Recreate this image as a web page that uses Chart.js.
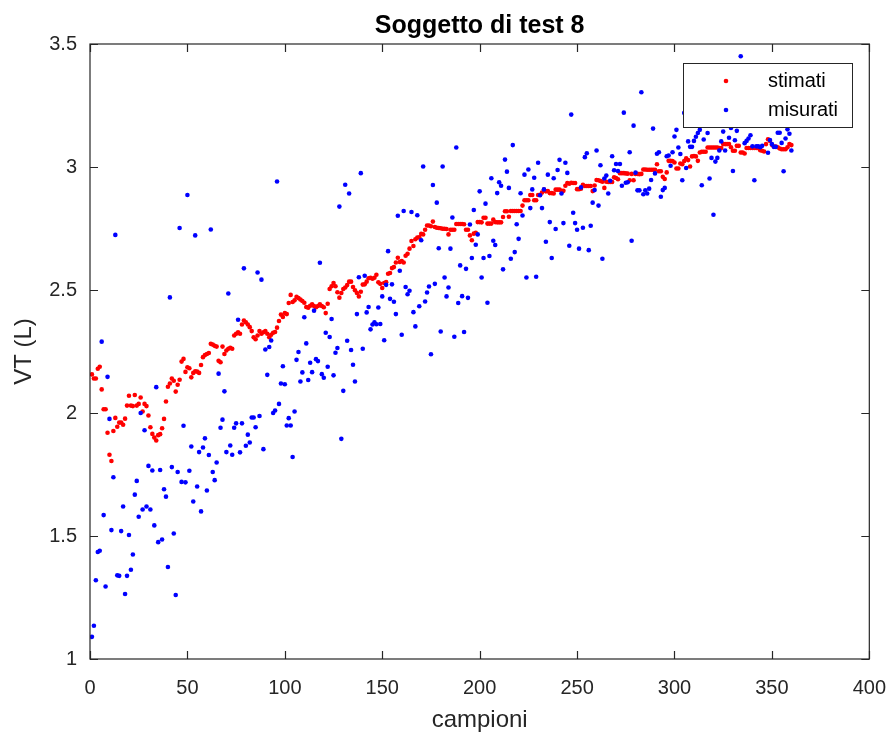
<!DOCTYPE html>
<html>
<head>
<meta charset="utf-8">
<script src="https://cdn.jsdelivr.net/npm/chart.js@4.4.0/dist/chart.umd.min.js"></script>
<style>
  body { margin: 0; background: #fff; }
  #wrap { width: 895px; height: 740px; }
</style>
</head>
<body>
<div id="wrap"><canvas id="chart" width="895" height="740"></canvas></div>
<script>
// sample numbers 1..360
const campioni = Array.from({ length: 360 }, (_, i) => i + 1);

// estimated values (red)
const stimati = [
  2.157, 2.14, 2.14, 2.18, 2.188, 2.096, 2.015, 2.015, 1.92, 1.83,
  1.805, 1.927, 1.98, 1.944, 1.961, 1.961, 1.952, 1.977, 2.03, 2.07,
  2.03, 2.028, 2.073, 2.03, 2.037, 2.063, 2.006, 2.037, 2.028, 1.99,
  1.942, 1.915, 1.9, 1.888, 1.91, 1.914, 1.938, 1.976, 2.047, 2.107,
  2.12, 2.14, 2.131, 2.087, 2.115, 2.135, 2.209, 2.22, 2.167, 2.186,
  2.182, 2.145, 2.163, 2.17, 2.168, 2.163, 2.195, 2.227, 2.236, 2.24,
  2.244, 2.281, 2.278, 2.273, 2.27, 2.212, 2.206, 2.27, 2.24, 2.254,
  2.261, 2.265, 2.261, 2.315, 2.322, 2.328, 2.322, 2.36, 2.376, 2.369,
  2.36, 2.349, 2.333, 2.308, 2.3, 2.315, 2.333, 2.322, 2.328, 2.333,
  2.322, 2.308, 2.318, 2.326, 2.329, 2.347, 2.374, 2.4, 2.39, 2.406,
  2.402, 2.447, 2.48, 2.451, 2.458, 2.472, 2.467, 2.461, 2.455, 2.448,
  2.431, 2.428, 2.436, 2.442, 2.435, 2.43, 2.435, 2.442, 2.435, 2.43,
  2.406, 2.444, 2.504, 2.515, 2.528, 2.515, 2.491, 2.469, 2.488, 2.504,
  2.51, 2.52, 2.534, 2.534, 2.512, 2.499, 2.488, 2.474, 2.493, 2.522,
  2.523, 2.534, 2.548, 2.55, 2.546, 2.55, 2.562, 2.531, 2.525, 2.508,
  2.528, 2.532, 2.566, 2.569, 2.589, 2.593, 2.612, 2.631, 2.614, 2.618,
  2.612, 2.639, 2.647, 2.668, 2.699, 2.679, 2.706, 2.713, 2.714, 2.728,
  2.726, 2.745, 2.762, 2.762, 2.759, 2.778, 2.756, 2.753, 2.752, 2.751,
  2.749, 2.749, 2.748, 2.726, 2.745, 2.745, 2.745, 2.768, 2.768, 2.768,
  2.768, 2.767, 2.745, 2.745, 2.722, 2.702, 2.729, 2.733, 2.776, 2.776,
  2.775, 2.794, 2.794, 2.77, 2.77, 2.77, 2.786, 2.776, 2.775, 2.775,
  2.775, 2.797, 2.82, 2.82, 2.798, 2.821, 2.821, 2.821, 2.821, 2.821,
  2.821, 2.843, 2.865, 2.865, 2.865, 2.886, 2.886, 2.865, 2.865, 2.886,
  2.886, 2.896, 2.908, 2.901, 2.902, 2.894, 2.894, 2.892, 2.908, 2.908,
  2.908, 2.903, 2.903, 2.924, 2.935, 2.932, 2.936, 2.935, 2.935, 2.91,
  2.91, 2.912, 2.928, 2.923, 2.923, 2.923, 2.923, 2.902, 2.925, 2.947,
  2.946, 2.943, 2.94, 2.915, 2.94, 2.939, 2.939, 2.939, 2.958, 2.955,
  2.95, 2.975, 2.975, 2.975, 2.974, 2.973, 2.946, 2.972, 2.946, 2.972,
  2.972, 2.971, 2.972, 2.99, 2.99, 2.989, 2.989, 2.989, 2.989, 2.989,
  3.011, 2.983, 2.983, 2.96, 2.951, 2.978, 3.025, 3.025, 3.024, 3.018,
  2.994, 2.994, 3.014, 3.011, 3.024, 3.035, 3.028, 3.002, 3.043, 3.045,
  3.043, 3.025, 3.059, 3.062, 3.062, 3.062, 3.079, 3.079, 3.079, 3.079,
  3.079, 3.079, 3.077, 3.077, 3.093, 3.093, 3.093, 3.093, 3.08, 3.066,
  3.066, 3.086, 3.086, 3.059, 3.059, 3.055, 3.077, 3.077, 3.077, 3.077,
  3.077, 3.077, 3.077, 3.068, 3.066, 3.063, 3.093, 3.113, 3.106, 3.09,
  3.083, 3.083, 3.08, 3.075, 3.072, 3.072, 3.072, 3.08, 3.093, 3.089
];

// measured values (blue)
const misurati = [
  1.09, 1.135, 1.32, 1.435, 1.44, 2.29, 1.585, 1.295, 2.147, 1.976,
  1.524, 1.739, 2.724, 1.34, 1.338, 1.52, 1.62, 1.264, 1.338, 1.504,
  1.363, 1.425, 1.668, 1.724, 1.578, 2.0, 1.608, 1.93, 1.62, 1.785,
  1.608, 1.766, 1.543, 2.105, 1.475, 1.768, 1.486, 1.69, 1.66, 1.374,
  2.47, 1.78, 1.51, 1.26, 1.76, 2.752, 1.72, 1.948, 1.718, 2.886,
  1.765, 1.864, 1.64, 2.722, 1.701, 1.841, 1.6, 1.86, 1.897, 1.685,
  1.829, 2.746, 1.76, 1.727, 1.799, 2.16, 1.94, 1.973, 2.088, 1.841,
  2.486, 1.868, 1.83, 1.94, 1.958, 2.379, 1.84, 1.958, 2.588, 1.867,
  1.912, 1.88, 1.982, 1.982, 1.942, 2.571, 1.988, 2.542, 1.853, 2.258,
  2.155, 2.268, 2.295, 2.0, 2.01, 2.941, 2.037, 2.12, 2.19, 2.117,
  1.949, 1.979, 1.949, 1.821, 2.006, 2.216, 2.248, 2.128, 2.165, 2.389,
  2.283, 2.134, 2.204, 2.166, 2.416, 2.219, 2.211, 2.611, 2.158, 2.143,
  2.326, 2.188, 2.309, 2.382, 2.153, 2.245, 2.264, 2.839, 1.895, 2.09,
  2.928, 2.294, 2.892, 2.256, 2.196, 2.128, 2.402, 2.552, 2.975, 2.261,
  2.558, 2.409, 2.431, 2.34, 2.36, 2.369, 2.361, 2.429, 2.362, 2.474,
  2.296, 2.521, 2.658, 2.464, 2.523, 2.452, 2.402, 2.802, 2.578, 2.318,
  2.821, 2.512, 2.483, 2.497, 2.817, 2.41, 2.352, 2.804, 2.434, 2.702,
  3.002, 2.453, 2.49, 2.514, 2.239, 2.927, 2.525, 2.855, 2.67, 2.331,
  3.002, 2.551, 2.474, 2.51, 2.668, 2.795, 2.31, 3.079, 2.447, 2.6,
  2.475, 2.329, 2.586, 2.468, 2.766, 2.63, 2.825, 2.684, 2.726, 2.901,
  2.551, 2.63, 2.851, 2.448, 2.638, 2.954, 2.7, 2.683, 2.894, 2.938,
  2.924, 2.584, 3.03, 2.981, 2.915, 2.627, 3.089, 2.654, 2.767, 2.708,
  2.893, 2.803, 2.969, 2.551, 2.99, 2.833, 2.909, 2.956, 2.554, 3.017,
  2.885, 2.833, 2.909, 2.696, 2.969, 2.776, 2.63, 2.954, 2.748, 2.988,
  3.029, 2.892, 2.772, 3.017, 2.976, 2.68, 3.213, 2.814, 2.772, 2.745,
  2.668, 2.917, 2.753, 3.04, 3.056, 2.662, 2.761, 2.855, 2.906, 3.067,
  2.843, 3.007, 2.627, 2.953, 2.965, 2.892, 2.944, 3.044, 2.987, 3.012,
  2.984, 3.012, 2.924, 3.221, 2.936, 2.938, 3.06, 2.7, 3.168, 2.977,
  2.905, 2.905, 3.304, 2.889, 2.905, 2.892, 2.912, 2.947, 3.156, 2.974,
  3.054, 3.06, 2.879, 2.906, 2.915, 3.044, 3.047, 3.005, 3.06, 3.124,
  3.151, 3.079, 3.053, 2.946, 3.22, 2.996, 3.104, 3.082, 3.082, 3.106,
  3.123, 3.138, 3.151, 2.926, 3.112, 3.25, 3.138, 2.953, 3.037, 2.806,
  3.022, 3.037, 3.067, 3.104, 3.144, 3.067, 3.2, 3.119, 3.159, 2.984,
  3.109, 3.147, 3.28, 3.45, 3.19, 3.097, 3.106, 3.116, 3.129, 3.084,
  2.946, 3.084, 3.084, 3.08, 3.086, 3.23, 3.3, 3.058, 3.11, 3.093,
  3.082, 3.082, 3.139, 3.139, 3.098, 2.983, 3.116, 3.153, 3.135, 3.067
];

const xTicks = [0, 50, 100, 150, 200, 250, 300, 350, 400];
const yTicks = [1, 1.5, 2, 2.5, 3, 3.5];
const seriesNames = ['stimati', 'misurati'];
const seriesColors = ['#ff0000', '#0000ff'];

const FONT = '"Liberation Sans", Arial, Helvetica, sans-serif';
const AXIS = '#262626';

// box, inward ticks, title, axis labels and the legend, MATLAB style
const matlabAxes = {
  id: 'matlabAxes',
  afterDraw(chart) {
    const ctx = chart.ctx;
    const a = chart.chartArea;
    const sx = chart.scales.x, sy = chart.scales.y;
    const tl = 8;
    ctx.save();
    ctx.strokeStyle = AXIS;
    ctx.lineWidth = 1.2;
    ctx.strokeRect(a.left, a.top, a.right - a.left, a.bottom - a.top);
    ctx.beginPath();
    xTicks.forEach(v => {
      const px = Math.round(sx.getPixelForValue(v)) + 0.5;
      ctx.moveTo(px, a.bottom); ctx.lineTo(px, a.bottom - tl);
      ctx.moveTo(px, a.top); ctx.lineTo(px, a.top + tl);
    });
    yTicks.forEach(v => {
      const py = Math.round(sy.getPixelForValue(v)) + 0.5;
      ctx.moveTo(a.left, py); ctx.lineTo(a.left + tl, py);
      ctx.moveTo(a.right, py); ctx.lineTo(a.right - tl, py);
    });
    ctx.stroke();

    // title
    ctx.fillStyle = '#000';
    ctx.font = 'bold 25px ' + FONT;
    ctx.textAlign = 'center';
    ctx.textBaseline = 'alphabetic';
    ctx.fillText('Soggetto di test 8', (a.left + a.right) / 2, 33);

    // axis labels
    ctx.fillStyle = AXIS;
    ctx.font = '24px ' + FONT;
    ctx.fillText('campioni', (a.left + a.right) / 2, 727);
    ctx.save();
    ctx.translate(31, (a.top + a.bottom) / 2);
    ctx.rotate(-Math.PI / 2);
    ctx.fillText('VT (L)', 0, 0);
    ctx.restore();

    // legend
    const lx = 683, ly = 63, lw = 169, lh = 64;
    ctx.fillStyle = '#fff';
    ctx.fillRect(lx, ly, lw, lh);
    ctx.strokeStyle = AXIS;
    ctx.lineWidth = 1;
    ctx.strokeRect(lx + 0.5, ly + 0.5, lw, lh);
    ctx.font = '20px ' + FONT;
    ctx.textAlign = 'left';
    ctx.textBaseline = 'middle';
    seriesNames.forEach((name, i) => {
      const cy = ly + 18 + i * 29;
      ctx.fillStyle = seriesColors[i];
      ctx.beginPath();
      ctx.arc(lx + 43, cy, 2.3, 0, Math.PI * 2);
      ctx.fill();
      ctx.fillStyle = '#000';
      ctx.fillText(name, lx + 85, cy);
    });
    ctx.restore();
  }
};

const ctx = document.getElementById('chart').getContext('2d');
new Chart(ctx, {
  type: 'scatter',
  data: {
    datasets: [
      {
        label: seriesNames[0],
        data: campioni.map((c, i) => ({ x: c, y: stimati[i] })),
        backgroundColor: seriesColors[0],
        pointRadius: 2.3,
        pointBorderWidth: 0,
        order: 2
      },
      {
        label: seriesNames[1],
        data: campioni.map((c, i) => ({ x: c, y: misurati[i] })),
        backgroundColor: seriesColors[1],
        pointRadius: 2.3,
        pointBorderWidth: 0,
        order: 1
      }
    ]
  },
  options: {
    responsive: false,
    animation: false,
    layout: { padding: { top: 44, right: 13, left: 0, bottom: 0 } },
    plugins: {
      legend: { display: false },
      title: { display: false },
      tooltip: { enabled: false }
    },
    scales: {
      x: {
        type: 'linear',
        min: 0,
        max: 400,
        afterBuildTicks: s => { s.ticks = xTicks.map(v => ({ value: v })); },
        ticks: { color: AXIS, font: { family: FONT, size: 20 }, padding: 9, maxRotation: 0, autoSkip: false },
        grid: { display: false },
        border: { display: false },
        afterFit: s => { s.height = 81; }
      },
      y: {
        min: 1,
        max: 3.5,
        afterBuildTicks: s => { s.ticks = yTicks.map(v => ({ value: v })); },
        ticks: { color: AXIS, font: { family: FONT, size: 20 }, padding: 5, callback: v => String(v) },
        grid: { display: false },
        border: { display: false },
        afterFit: s => { s.width = 90; }
      }
    }
  },
  plugins: [matlabAxes]
});
</script>
</body>
</html>
